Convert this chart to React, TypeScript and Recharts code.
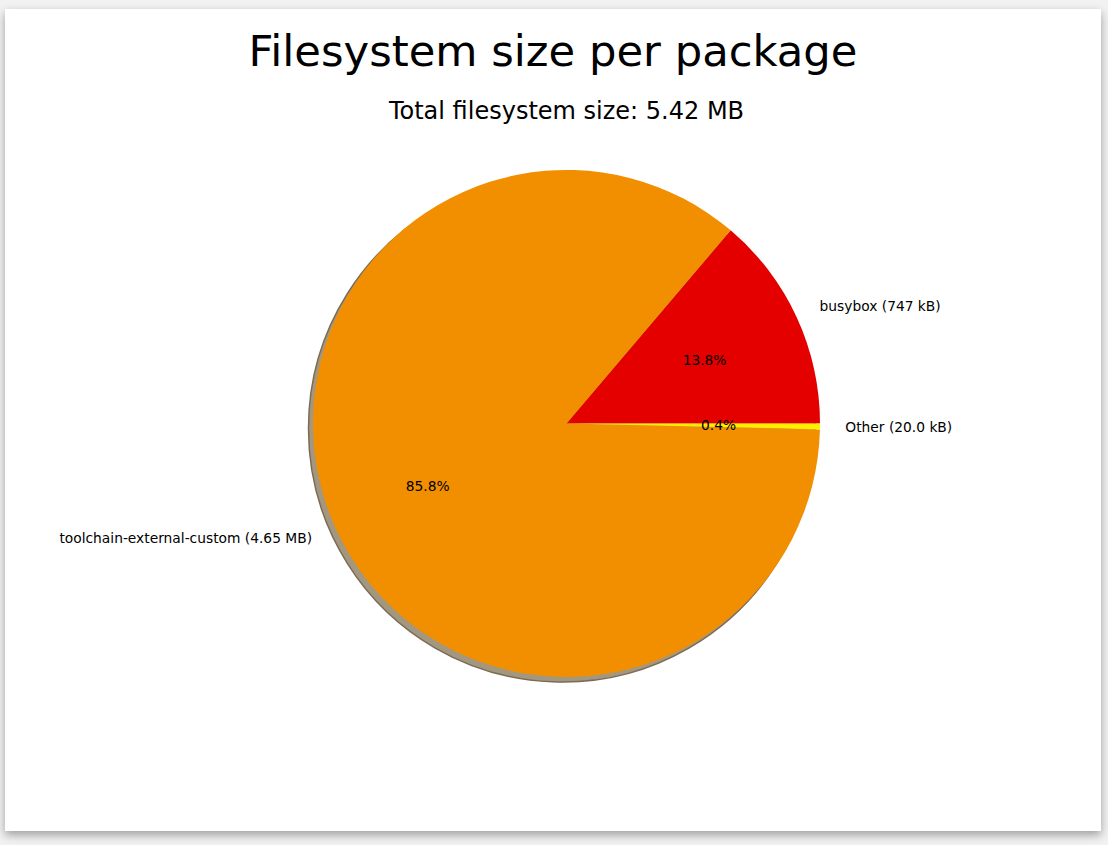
import React from "react";
import { PieChart, Pie, Cell } from "recharts";

const packages = ["busybox", "toolchain-external-custom", "Other"];
const sizesKB = [747, 4650, 20.0];
const sizeLabels = ["747 kB", "4.65 MB", "20.0 kB"];
const colors = ["#e50000", "#f28f00", "#ffee00"];

const titleText = "Filesystem size per package";
const subtitleText = "Total filesystem size: 5.42 MB";

const data = packages.map((p, i) => ({ name: p, value: sizesKB[i], size: sizeLabels[i] }));
const total = sizesKB.reduce((a, b) => a + b, 0);
const shadowData = [{ name: "shadow", value: total }];

const FONT = "'DejaVu Sans', sans-serif";
const RAD = Math.PI / 180;

const renderLabel = (props: any) => {
  const { cx, cy, midAngle, outerRadius, payload, value } = props;
  const cos = Math.cos(-midAngle * RAD);
  const sin = Math.sin(-midAngle * RAD);
  const lx = cx + outerRadius * 1.1 * cos;
  const ly = cy + outerRadius * 1.1 * sin;
  const px = cx + outerRadius * 0.6 * cos;
  const py = cy + outerRadius * 0.6 * sin;
  const pct = ((value / total) * 100).toFixed(1) + "%";
  const name = payload && payload.name !== undefined ? payload.name : props.name;
  const size = payload && payload.size !== undefined ? payload.size : "";
  return (
    <g>
      <text
        x={lx}
        y={ly}
        textAnchor={lx >= cx ? "start" : "end"}
        dominantBaseline="central"
        fontFamily={FONT}
        fontSize={13.8}
        fill="#000"
      >
        {`${name} (${size})`}
      </text>
      <text
        x={px}
        y={py}
        textAnchor="middle"
        dominantBaseline="central"
        fontFamily={FONT}
        fontSize={13.8}
        fill="#000"
      >
        {pct}
      </text>
    </g>
  );
};

export default function App() {
  return (
    <div
      style={{
        position: "absolute",
        left: 0,
        top: 0,
        width: 1108,
        height: 845,
        background: "#f2f2f2",
        overflow: "hidden",
      }}
    >
      <div
        style={{
          position: "absolute",
          left: 5,
          top: 9,
          width: 1096,
          height: 822,
          background: "#ffffff",
          boxShadow: "0 4px 9px rgba(0,0,0,0.35)",
        }}
      />
      <svg
        width={1108}
        height={845}
        style={{ position: "absolute", left: 0, top: 0 }}
      >
        <text
          x={553}
          y={66}
          textAnchor="middle"
          fontFamily={FONT}
          fontSize={43.3}
          fill="#000"
        >
          {titleText}
        </text>
        <text
          x={566.5}
          y={119}
          textAnchor="middle"
          fontFamily={FONT}
          fontSize={24}
          fill="#000"
        >
          {subtitleText}
        </text>
      </svg>
      <div style={{ position: "absolute", left: 0, top: 0 }}>
        <PieChart width={1108} height={845} margin={{ top: 0, right: 0, bottom: 0, left: 0 }}>
          <Pie
            data={shadowData}
            dataKey="value"
            cx={562}
            cy={428.5}
            outerRadius={253.5}
            startAngle={0}
            endAngle={360}
            isAnimationActive={false}
            fill="#a3987f"
            stroke="#7b6b52"
            strokeWidth={1.5}
            label={false}
            labelLine={false}
          />
          <Pie
            data={data}
            dataKey="value"
            nameKey="name"
            cx={566.5}
            cy={423.5}
            outerRadius={253.5}
            startAngle={0}
            endAngle={360}
            isAnimationActive={false}
            stroke="none"
            label={renderLabel}
            labelLine={false}
          >
            {data.map((d, i) => (
              <Cell key={d.name} fill={colors[i]} stroke="none" />
            ))}
          </Pie>
        </PieChart>
      </div>
    </div>
  );
}
